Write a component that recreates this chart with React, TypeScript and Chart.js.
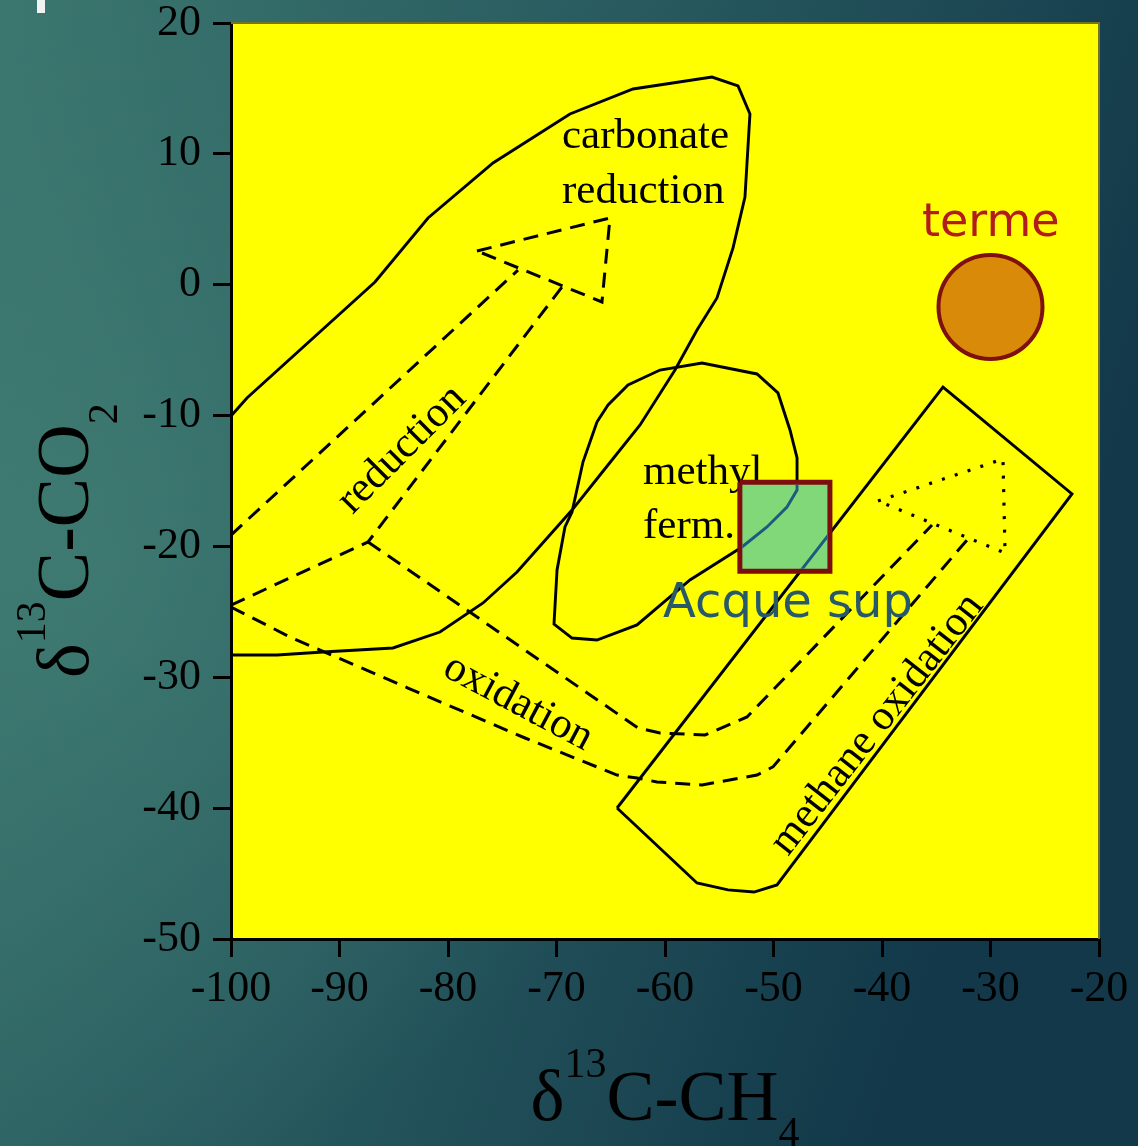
import { useEffect, useRef } from 'react';
import { Chart, registerables } from 'chart.js';
import type { Plugin, ChartConfiguration } from 'chart.js';

Chart.register(...registerables);

type Pt = [number, number];

// Axis ticks (δ13C-CH4 on x, δ13C-CO2 on y, ‰)
const xTickValues = [-100, -90, -80, -70, -60, -50, -40, -30, -20];
const yTickValues = [-50, -40, -30, -20, -10, 0, 10, 20];

// Genetic fields (solid outlines)
const carbonateReductionField: Pt[] = [
  [-100, -10.03], [-98.53, -8.66], [-86.73, 0.21], [-81.84, 5.1], [-75.85, 9.3],
  [-68.76, 13.05], [-62.95, 14.96], [-55.67, 15.87], [-53.27, 15.19], [-52.17, 13.05],
  [-52.63, 6.7], [-53.73, 2.81], [-55.21, -1.01], [-57.05, -3.46], [-59.08, -6.52],
  [-62.3, -10.72], [-65.99, -14.54], [-68.57, -17.22], [-73.64, -21.95], [-76.77, -24.32],
  [-80.74, -26.54], [-85.07, -27.76], [-91.52, -28.07], [-95.76, -28.3], [-100, -28.3],
];
const methylFermentationField: Pt[] = [
  [-66.27, -10.49], [-65.25, -9.19], [-63.41, -7.66], [-60.46, -6.52], [-56.59, -5.98],
  [-51.52, -6.82], [-49.59, -8.27], [-48.48, -11.1], [-47.83, -13.24], [-47.83, -15.69],
  [-48.76, -16.99], [-50.6, -18.51], [-52.9, -20.04], [-57.7, -22.56], [-62.58, -26.0],
  [-66.27, -27.15], [-68.57, -27.0], [-70.23, -25.93], [-69.95, -21.8], [-69.22, -18.51],
  [-68.57, -17.37], [-67.56, -13.55], [-66.27, -10.49],
];
const methaneOxidationField: Pt[] = [
  [-64.42, -39.99], [-34.38, -7.82], [-22.49, -15.99], [-49.68, -45.87],
  [-51.8, -46.41], [-54.19, -46.25], [-57.05, -45.72], [-64.42, -39.99],
];

// Process arrows (dashed shafts, arrowheads)
const reductionUpper: Pt[] = [[-100, -19.13], [-73.55, 1.12]];
const reductionLower: Pt[] = [[-100, -24.48], [-87.37, -19.66], [-69.49, -0.17]];
const reductionHead: Pt[] = [[-77.33, 2.58], [-65.07, 5.1], [-65.81, -1.32], [-77.33, 2.58]];
const oxidationUpper: Pt[] = [
  [-87.37, -19.66], [-62.49, -33.87], [-60.46, -34.26], [-56.31, -34.41],
  [-52.44, -33.03], [-35.39, -18.36],
];
const oxidationLower: Pt[] = [
  [-100, -24.63], [-94.38, -27.0], [-83.69, -30.82], [-72.9, -34.64], [-64.42, -37.47],
  [-62.58, -37.7], [-60.74, -38.0], [-56.59, -38.23], [-51.52, -37.47], [-50.05, -36.85],
  [-32.17, -19.51],
];
const methaneOxidationHead: Pt[] = [[-40.37, -16.53], [-28.85, -13.32], [-28.66, -20.5], [-40.37, -16.53]];

// Sample ranges
const acqueSupCH4: number[] = [-53.1, -44.8];
const acqueSupCO2: number[] = [-21.9, -15.1];
const termeCH4: number[] = [-30];
const termeCO2: number[] = [-1.7];

const SERIF = "'Liberation Serif', 'Times New Roman', serif";
const SANS = "'DejaVu Sans', sans-serif";
const INSIDE_BOX = '#1d5a7e';

const toPoints = (pts: Pt[]) => pts.map(([x, y]) => ({ x, y }));
const boxPoints = () => [
  { x: acqueSupCH4[0], y: acqueSupCO2[1] },
  { x: acqueSupCH4[1], y: acqueSupCO2[1] },
  { x: acqueSupCH4[1], y: acqueSupCO2[0] },
  { x: acqueSupCH4[0], y: acqueSupCO2[0] },
  { x: acqueSupCH4[0], y: acqueSupCO2[1] },
];

const solid = (label: string, pts: Pt[]) => ({
  label, data: toPoints(pts), showLine: true, pointRadius: 0, borderColor: '#000',
  borderWidth: 2.9, fill: false, order: 3, tension: 0,
});
const dashed = (label: string, pts: Pt[]) => ({
  ...solid(label, pts), borderDash: [15, 9], borderWidth: 3,
});

function boxRect(chart: Chart, inset: number) {
  const sx = chart.scales.x, sy = chart.scales.y;
  const l = sx.getPixelForValue(acqueSupCH4[0]) + inset;
  const r = sx.getPixelForValue(acqueSupCH4[1]) - inset;
  const t = sy.getPixelForValue(acqueSupCO2[1]) + inset;
  const b = sy.getPixelForValue(acqueSupCO2[0]) - inset;
  return { l, r, t, b };
}

function text(ctx: CanvasRenderingContext2D, s: string, x: number, y: number, font: string,
  color: string, angle = 0, align: CanvasTextAlign = 'left', base: CanvasTextBaseline = 'alphabetic') {
  ctx.save();
  ctx.translate(x, y);
  ctx.rotate((angle * Math.PI) / 180);
  ctx.font = font;
  ctx.fillStyle = color;
  ctx.textAlign = align;
  ctx.textBaseline = base;
  ctx.fillText(s, 0, 0);
  ctx.restore();
}

// Chemical formula with super/subscript pieces, drawn left to right on the current baseline
function formula(ctx: CanvasRenderingContext2D, parts: { t: string; size: number; dy: number }[], startX: number) {
  let x = startX;
  for (const p of parts) {
    ctx.font = `${p.size}px ${SERIF}`;
    ctx.fillText(p.t, x, p.dy);
    x += ctx.measureText(p.t).width;
  }
}
function formulaWidth(ctx: CanvasRenderingContext2D, parts: { t: string; size: number; dy: number }[]) {
  let w = 0;
  for (const p of parts) {
    ctx.font = `${p.size}px ${SERIF}`;
    w += ctx.measureText(p.t).width;
  }
  return w;
}

const decor: Plugin<'scatter'> = {
  id: 'decor',
  beforeDraw(chart) {
    const { ctx, width, height, chartArea: a } = chart;
    ctx.save();
    const g = ctx.createLinearGradient(0, 0, width, height * 0.35);
    g.addColorStop(0, '#3a766e');
    g.addColorStop(0.5, '#285a5f');
    g.addColorStop(1, '#123849');
    ctx.fillStyle = g;
    ctx.fillRect(0, 0, width, height);
    const r = ctx.createRadialGradient(70, 560, 0, 70, 560, 620);
    r.addColorStop(0, 'rgba(70,132,120,0.6)');
    r.addColorStop(1, 'rgba(70,132,120,0)');
    ctx.fillStyle = r;
    ctx.fillRect(0, 0, width, height);
    ctx.fillStyle = '#f2f2f2';
    ctx.fillRect(37, 0, 8, 13);
    ctx.fillStyle = '#ffff00';
    ctx.fillRect(a.left, a.top, a.right - a.left, a.bottom - a.top);
    ctx.restore();
  },
  beforeDatasetsDraw(chart) {
    const { ctx } = chart;
    const sx = chart.scales.x, sy = chart.scales.y;
    const P = (x: number, y: number) => [sx.getPixelForValue(x), sy.getPixelForValue(y)] as const;
    const f = `43px ${SERIF}`;
    let p = P(-69.49, 10.45); text(ctx, 'carbonate', p[0], p[1], f, '#000');
    p = P(-69.49, 6.24); text(ctx, 'reduction', p[0], p[1], f, '#000');
    p = P(-62.03, -15.23); text(ctx, 'methyl', p[0], p[1], f, '#000');
    p = P(-62.03, -19.35); text(ctx, 'ferm.', p[0], p[1], f, '#000');
    p = P(-84.24, -12.6); text(ctx, 'reduction', p[0], p[1], f, '#000', -45, 'center', 'middle');
    p = P(-73.55, -31.95); text(ctx, 'oxidation', p[0], p[1], f, '#000', 28, 'center', 'middle');
    p = P(-40.45, -33.6); text(ctx, 'methane oxidation', p[0], p[1], f, '#000', -52, 'center', 'middle');
  },
  beforeDatasetDraw(chart, args) {
    const ds: any = chart.data.datasets[args.index];
    if (ds.insideBox) {
      const { l, r, t, b } = boxRect(chart, 2.5);
      chart.ctx.save();
      chart.ctx.beginPath();
      chart.ctx.rect(l, t, r - l, b - t);
      chart.ctx.clip();
    }
  },
  afterDatasetDraw(chart, args) {
    const ds: any = chart.data.datasets[args.index];
    if (ds.insideBox) chart.ctx.restore();
    if (ds.isBox) {
      const { ctx } = chart;
      const { l, r, t, b } = boxRect(chart, 2.5);
      ctx.save();
      ctx.beginPath();
      ctx.rect(l, t, r - l, b - t);
      ctx.clip();
      const x = chart.scales.x.getPixelForValue(-62.03);
      const y = chart.scales.y.getPixelForValue(-15.23);
      text(ctx, 'methyl', x, y, `43px ${SERIF}`, INSIDE_BOX);
      ctx.restore();
    }
  },
  afterDatasetsDraw(chart) {
    const { ctx } = chart;
    const sx = chart.scales.x, sy = chart.scales.y;
    text(ctx, 'terme', sx.getPixelForValue(-36.31), sy.getPixelForValue(3.72), `46px ${SANS}`, '#b21c1c');
    text(ctx, 'Acque sup', sx.getPixelForValue(-60.18), sy.getPixelForValue(-25.39), `48px ${SANS}`, '#27596b');
  },
  afterDraw(chart) {
    const { ctx, chartArea: a } = chart;
    ctx.save();
    ctx.strokeStyle = '#74741c';
    ctx.lineWidth = 2;
    ctx.beginPath();
    ctx.moveTo(a.left, a.top);
    ctx.lineTo(a.right, a.top);
    ctx.lineTo(a.right, a.bottom);
    ctx.stroke();

    ctx.fillStyle = '#000';
    ctx.textAlign = 'left';
    ctx.textBaseline = 'alphabetic';
    // x title: δ13C-CH4
    const xParts = [
      { t: 'δ', size: 72, dy: 0 }, { t: '13', size: 42, dy: -43 },
      { t: 'C-CH', size: 72, dy: 0 }, { t: '4', size: 42, dy: 26 },
    ];
    const cx = (a.left + a.right) / 2;
    ctx.save();
    ctx.translate(0, a.bottom + 181);
    formula(ctx, xParts, cx - formulaWidth(ctx, xParts) / 2);
    ctx.restore();
    // y title: δ13C-CO2
    const yParts = [
      { t: 'δ', size: 74, dy: 0 }, { t: '13', size: 42, dy: -43 },
      { t: 'C-CO', size: 74, dy: 0 }, { t: '2', size: 42, dy: 29 },
    ];
    ctx.save();
    ctx.translate(a.left - 143, a.bottom - 261);
    ctx.rotate(-Math.PI / 2);
    formula(ctx, yParts, 0);
    ctx.restore();
    ctx.restore();
  },
};

// Keep the plot frame fixed: axes take a set size and labels may overhang the edges
const noOverhang = (s: any) => {
  s.paddingTop = 0;
  s.paddingBottom = 0;
  s.paddingLeft = 0;
  s.paddingRight = 0;
};

const config: ChartConfiguration<'scatter'> = {
  type: 'scatter',
  data: {
    datasets: [
      {
        label: 'terme', data: termeCH4.map((x, i) => ({ x, y: termeCO2[i] })),
        pointRadius: 52, pointHoverRadius: 52, pointBackgroundColor: '#d98a08',
        pointBorderColor: '#7e1010', pointBorderWidth: 4, showLine: false, order: 0,
      } as any,
      { ...solid('methyl fermentation (in box)', methylFermentationField), borderColor: INSIDE_BOX, order: 1, insideBox: true } as any,
      { ...solid('methane oxidation (in box)', methaneOxidationField), borderColor: INSIDE_BOX, order: 1, insideBox: true } as any,
      {
        label: 'Acque sup', data: boxPoints(), showLine: true, pointRadius: 0,
        borderColor: '#7e0e0e', borderWidth: 5, backgroundColor: '#80d878',
        fill: 'shape', borderJoinStyle: 'miter', order: 2, isBox: true,
      } as any,
      solid('carbonate reduction', carbonateReductionField) as any,
      solid('methyl fermentation', methylFermentationField) as any,
      solid('methane oxidation', methaneOxidationField) as any,
      dashed('reduction upper', reductionUpper) as any,
      dashed('reduction lower', reductionLower) as any,
      dashed('reduction head', reductionHead) as any,
      dashed('oxidation upper', oxidationUpper) as any,
      dashed('oxidation lower', oxidationLower) as any,
      { ...dashed('methane oxidation head', methaneOxidationHead), borderDash: [3, 10.5], borderWidth: 3.2 } as any,
    ],
  },
  options: {
    responsive: false,
    animation: false,
    devicePixelRatio: 1,
    layout: { autoPadding: false, padding: { top: 23, right: 39, left: 0, bottom: 0 } },
    plugins: { legend: { display: false }, tooltip: { enabled: false } },
    events: [],
    scales: {
      x: {
        type: 'linear', min: -100, max: -20,
        afterBuildTicks: (s) => { s.ticks = xTickValues.map((value) => ({ value })); },
        afterFit: (s) => { s.height = 207; noOverhang(s); },
        grid: { drawOnChartArea: false, drawTicks: true, tickLength: 18, color: '#000', lineWidth: 3 },
        border: { display: true, color: '#000', width: 3 },
        ticks: { color: '#000', font: { family: SERIF, size: 44 }, padding: 6, maxRotation: 0, autoSkip: false },
      },
      y: {
        type: 'linear', min: -50, max: 20,
        afterBuildTicks: (s) => { s.ticks = yTickValues.map((value) => ({ value })); },
        afterFit: (s) => { s.width = 231; noOverhang(s); },
        grid: { drawOnChartArea: false, drawTicks: true, tickLength: 18, color: '#000', lineWidth: 3 },
        border: { display: true, color: '#000', width: 3 },
        ticks: { color: '#000', font: { family: SERIF, size: 44 }, padding: 12, autoSkip: false },
      },
    },
  },
  plugins: [decor],
};

export default function App() {
  const ref = useRef<HTMLCanvasElement>(null);
  useEffect(() => {
    const chart = new Chart(ref.current!, config);
    return () => chart.destroy();
  }, []);
  return (
    <div style={{ position: 'fixed', left: 0, top: 0, width: 1138, height: 1146 }}>
      <canvas ref={ref} width={1138} height={1146} style={{ display: 'block' }} />
    </div>
  );
}
